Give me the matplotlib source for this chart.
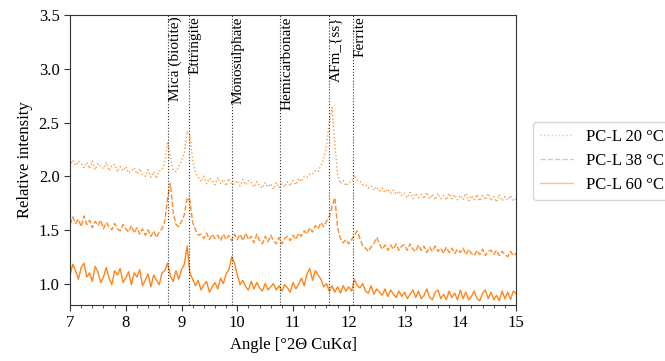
import matplotlib
matplotlib.use("Agg")
import matplotlib.pyplot as plt
import numpy as np

plt.rcParams['font.family'] = ['Liberation Serif', 'DejaVu Serif']

# diffraction angle grid, 0.05 deg steps from 7 to 15
angle = np.round(np.arange(7.0, 15.0001, 0.05), 2)

pcl_20 = [
    2.09, 2.15, 2.10, 2.14, 2.12, 2.08, 2.13, 2.07, 2.14, 2.06, 2.12, 2.09, 2.07, 2.13, 2.05, 2.10, 2.11, 2.04, 2.09, 2.05,
    2.09, 2.03, 2.05, 2.08, 2.02, 2.07, 2.01, 2.00, 2.06, 1.99, 2.04, 1.98, 2.05, 2.06, 2.13, 2.32, 2.18, 2.06, 2.04, 2.09,
    2.14, 2.22, 2.42, 2.38, 2.15, 2.03, 1.99, 1.95, 2.00, 1.93, 1.98, 1.96, 1.92, 1.99, 1.93, 1.97, 1.91, 1.98, 1.92, 1.93,
    1.96, 1.91, 1.97, 1.92, 1.96, 1.94, 1.90, 1.95, 1.91, 1.89, 1.94, 1.90, 1.93, 1.88, 1.94, 1.89, 1.93, 1.90, 1.95, 1.91,
    1.96, 1.92, 1.98, 1.95, 2.00, 1.99, 2.02, 2.02, 2.05, 2.04, 2.10, 2.16, 2.28, 2.50, 2.64, 2.30, 2.02, 1.93, 1.96, 1.91,
    1.94, 1.95, 2.01, 1.96, 1.95, 1.92, 1.92, 1.89, 1.91, 1.87, 1.90, 1.86, 1.89, 1.85, 1.88, 1.84, 1.87, 1.83, 1.86, 1.82,
    1.84, 1.80, 1.85, 1.79, 1.84, 1.80, 1.83, 1.79, 1.85, 1.79, 1.83, 1.78, 1.84, 1.79, 1.82, 1.78, 1.84, 1.79, 1.83, 1.78,
    1.82, 1.78, 1.84, 1.77, 1.82, 1.78, 1.83, 1.77, 1.82, 1.78, 1.84, 1.77, 1.81, 1.76, 1.83, 1.77, 1.81, 1.78, 1.82, 1.77,
    1.79,
]

pcl_38 = [
    1.55, 1.62, 1.56, 1.60, 1.53, 1.63, 1.55, 1.59, 1.52, 1.58, 1.54, 1.59, 1.51, 1.57, 1.53, 1.50, 1.56, 1.51, 1.49, 1.55,
    1.51, 1.48, 1.54, 1.47, 1.52, 1.46, 1.51, 1.45, 1.50, 1.44, 1.49, 1.43, 1.48, 1.51, 1.58, 1.80, 1.93, 1.66, 1.55, 1.53,
    1.58, 1.64, 1.80, 1.77, 1.57, 1.50, 1.45, 1.46, 1.42, 1.47, 1.41, 1.46, 1.42, 1.45, 1.40, 1.46, 1.41, 1.45, 1.40, 1.46,
    1.41, 1.46, 1.40, 1.47, 1.41, 1.44, 1.38, 1.46, 1.40, 1.37, 1.44, 1.39, 1.45, 1.40, 1.37, 1.43, 1.37, 1.42, 1.44, 1.40,
    1.45, 1.41, 1.47, 1.44, 1.49, 1.46, 1.52, 1.48, 1.54, 1.51, 1.57, 1.53, 1.58, 1.62, 1.72, 1.80, 1.52, 1.42, 1.38, 1.41,
    1.37, 1.41, 1.45, 1.49, 1.42, 1.35, 1.33, 1.30, 1.34, 1.37, 1.43, 1.37, 1.32, 1.36, 1.31, 1.36, 1.32, 1.37, 1.31, 1.35,
    1.36, 1.31, 1.37, 1.32, 1.30, 1.36, 1.31, 1.35, 1.29, 1.34, 1.30, 1.35, 1.30, 1.33, 1.28, 1.34, 1.29, 1.33, 1.28, 1.32,
    1.29, 1.33, 1.27, 1.32, 1.28, 1.26, 1.31, 1.27, 1.32, 1.26, 1.30, 1.31, 1.27, 1.31, 1.26, 1.30, 1.27, 1.25, 1.30, 1.26,
    1.28,
]

pcl_60 = [
    1.08, 1.18, 1.12, 1.04, 1.15, 1.19, 1.06, 1.10, 1.02, 1.16, 1.11, 1.01, 1.06, 1.15, 1.05, 0.99, 1.12, 1.08, 1.14, 1.01,
    1.05, 1.11, 0.99, 1.10, 1.06, 1.13, 0.98, 1.03, 1.09, 0.97, 1.08, 1.03, 0.99, 1.10, 1.12, 1.19, 1.07, 1.02, 1.12, 1.04,
    1.13, 1.18, 1.35, 1.10, 1.04, 0.98, 1.03, 0.94, 0.99, 1.02, 0.92, 0.97, 1.01, 0.95, 1.05, 1.00, 1.09, 1.13, 1.25, 1.19,
    1.08, 0.99, 1.03, 0.97, 0.94, 1.02, 0.95, 1.01, 0.96, 0.93, 1.00, 0.94, 0.97, 1.00, 0.94, 0.98, 0.93, 0.99, 0.96, 0.92,
    1.01, 0.95, 0.99, 1.05, 0.98, 1.09, 1.14, 1.03, 1.12, 1.08, 1.04, 0.97, 1.00, 0.93, 0.98, 0.92, 0.97, 0.91, 0.98, 0.93,
    0.97, 0.93, 1.04, 0.98, 0.96, 1.00, 0.93, 0.91, 0.98, 0.90, 0.95, 0.92, 0.89, 0.95, 0.88, 0.94, 0.90, 0.87, 0.93, 0.88,
    0.92, 0.86, 0.90, 0.94, 0.87, 0.93, 0.86, 0.89, 0.95, 0.87, 0.85, 0.92, 0.94, 0.86, 0.90, 0.85, 0.93, 0.87, 0.91, 0.85,
    0.94, 0.86, 0.92, 0.85, 0.88, 0.93, 0.86, 0.84, 0.91, 0.94, 0.86, 0.92, 0.85, 0.89, 0.84, 0.93, 0.86, 0.92, 0.85, 0.93,
    0.91,
]

series_labels = ['PC-L 20 °C', 'PC-L 38 °C', 'PC-L 60 °C']
series_styles = [':', '--', '-']
series_alpha = [0.8, 0.9, 0.95]

phase_names = ['Mica (biotite)', 'Ettringite', 'Monosulphate', 'Hemicarbonate', 'AFm_{ss}', 'Ferrite']
phase_angles = [8.76, 9.13, 9.90, 10.77, 11.65, 12.08]

fig = plt.figure(figsize=(6.65, 3.61), dpi=100)
ax = fig.add_axes([0.1053, 0.155, 0.6707, 0.803])

for y, lab, ls, a in zip([pcl_20, pcl_38, pcl_60], series_labels, series_styles, series_alpha):
    ax.plot(angle, y, ls=ls, color='#ff7f0e', alpha=a, lw=1.0, label=lab)

for name, pos in zip(phase_names, phase_angles):
    ax.axvline(pos, color='k', ls=':', lw=0.8, alpha=0.8)
    ax.text(pos, 3.49, name, rotation=90, ha='left', va='top', fontsize=11)

ax.set_xlim(7, 15)
ax.set_ylim(0.8, 3.5)
ax.set_xticks(range(7, 16))
ax.set_xticks(np.arange(7, 15.01, 0.2), minor=True)
ax.set_yticks([1.0, 1.5, 2.0, 2.5, 3.0, 3.5])
ax.tick_params(axis='both', which='major', labelsize=12, length=4, color='#333333')
ax.tick_params(axis='x', which='minor', length=2.5, color='#333333')
for s in ax.spines.values():
    s.set_color('#333333')

ax.set_xlabel('Angle [°2Θ CuKα]', fontsize=12)
ax.set_ylabel('Relative intensity', fontsize=12)

leg = ax.legend(loc='upper left', bbox_to_anchor=(1.038, 0.632), borderaxespad=0,
                fontsize=12, frameon=True)
for h in leg.get_lines():
    h.set_alpha(0.5)

fig.savefig('out.png', dpi=100)
